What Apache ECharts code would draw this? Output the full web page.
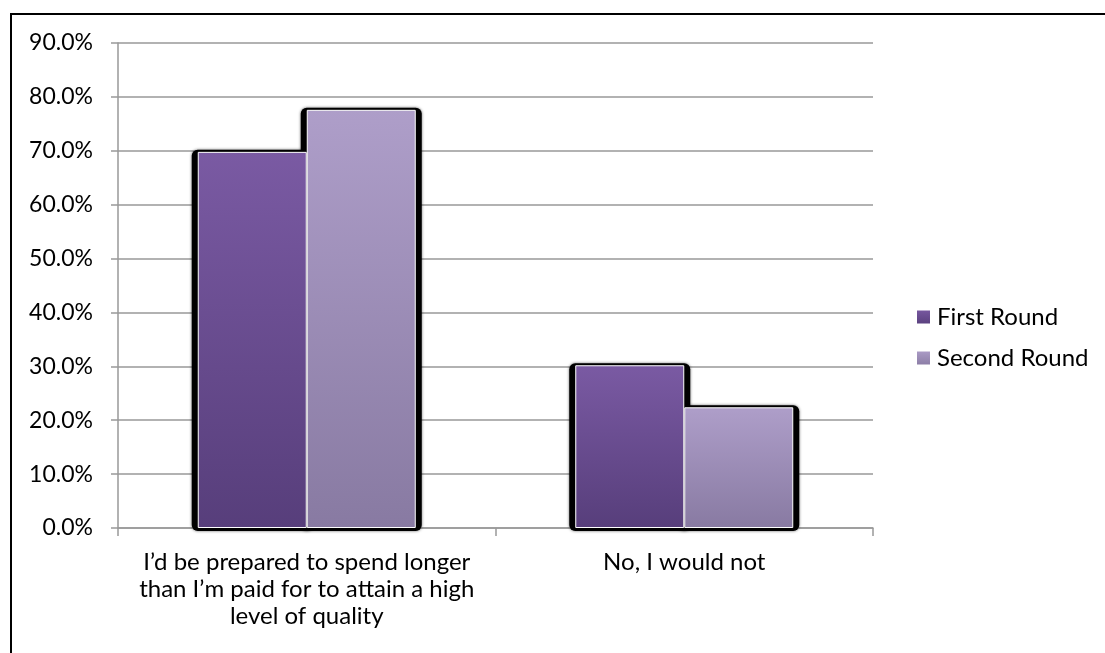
<!DOCTYPE html>
<html>
<head>
<meta charset="utf-8">
<script src="https://cdn.jsdelivr.net/npm/echarts@6/dist/echarts.min.js"></script>
<style>
html,body{margin:0;padding:0;background:#fff;}
#chart{width:1105px;height:653px;}
</style>
</head>
<body>
<div id="chart"></div>
<script>
const categories = [
  "I\u2019d be prepared to spend longer\nthan I\u2019m paid for to attain a high\nlevel of quality",
  "No, I would not"
];
const seriesNames = ["First Round", "Second Round"];
const firstRound = [69.8, 30.2];
const secondRound = [77.6, 22.4];
const yTicks = { min: 0, max: 90, interval: 10 };

const FONT = "Lato";
const BAR_W = 109;
const chart = echarts.init(document.getElementById('chart'), null, { renderer: 'canvas' });

function grad(top, bottom) {
  return new echarts.graphic.LinearGradient(0, 0, 0, 1, [
    { offset: 0, color: top },
    { offset: 1, color: bottom }
  ]);
}

const barStyle = (top, bottom) => ({
  color: grad(top, bottom),
  borderColor: '#ffffff',
  borderWidth: 1
});

const shadowData = categories.map((c, i) => [i, firstRound[i], secondRound[i]]);

function renderShadow(params, api) {
  const idx = api.value(0);
  const base = api.coord([idx, 0]);
  const p1 = api.coord([idx, api.value(1)]);
  const p2 = api.coord([idx, api.value(2)]);
  const cx = base[0];
  const ex = 6, et = 2, eb = 3;
  const mk = (x0, x1, yTop) => ({
    type: 'rect',
    shape: { x: x0 - ex, y: yTop - et, width: (x1 - x0) + 2 * ex, height: base[1] - yTop + et + eb, r: 6 },
    style: { fill: '#000', shadowColor: 'rgba(0,0,0,0.6)', shadowBlur: 3 }
  });
  return {
    type: 'group',
    children: [mk(cx - BAR_W, cx, p1[1]), mk(cx, cx + BAR_W, p2[1])]
  };
}

chart.setOption({
  animation: false,
  backgroundColor: '#ffffff',
  graphic: [{
    type: 'rect',
    shape: { x: 11, y: 14, width: 1120, height: 700 },
    style: { fill: 'none', stroke: '#000', lineWidth: 2 },
    silent: true,
    z: -10
  }],
  grid: { left: 118, right: 232, top: 43, bottom: 125, containLabel: false },
  legend: {
    orient: 'vertical',
    left: 910,
    top: 300,
    itemWidth: 15,
    itemHeight: 15,
    itemGap: 17,
    icon: 'rect',
    textStyle: { fontFamily: FONT, fontSize: 24, color: '#000', padding: [0, 0, 0, 1] },
    data: seriesNames
  },
  xAxis: {
    type: 'category',
    data: categories,
    axisLine: { show: true, lineStyle: { color: '#999', width: 1.5 } },
    axisTick: { show: true, length: 8, alignWithLabel: false, interval: 0, lineStyle: { color: '#999', width: 1.5 } },
    axisLabel: { interval: 0, hideOverlap: false, fontFamily: FONT, fontSize: 24, color: '#000', margin: 21, lineHeight: 27, align: 'center' }
  },
  yAxis: {
    type: 'value',
    min: yTicks.min,
    max: yTicks.max,
    interval: yTicks.interval,
    axisLine: { show: true, lineStyle: { color: '#999', width: 1.5 } },
    axisTick: { show: true, length: 7, inside: false, lineStyle: { color: '#999', width: 1.5 } },
    splitLine: { show: true, lineStyle: { color: '#999', width: 1.5 } },
    axisLabel: { fontFamily: FONT, fontSize: 23, color: '#000', margin: 25, formatter: v => v.toFixed(1) + '%' }
  },
  series: [
    {
      type: 'custom',
      name: 'shadow',
      renderItem: renderShadow,
      data: shadowData,
      encode: { x: 0, y: [1, 2] },
      z: 1,
      silent: true
    },
    {
      name: seriesNames[0],
      type: 'bar',
      data: firstRound,
      barWidth: BAR_W,
      barGap: '0%',
      z: 3,
      itemStyle: barStyle('#7a5aa3', '#573e7b')
    },
    {
      name: seriesNames[1],
      type: 'bar',
      data: secondRound,
      barWidth: BAR_W,
      barGap: '0%',
      z: 3,
      itemStyle: barStyle('#ae9ec9', '#887aa2')
    }
  ]
});
</script>
</body>
</html>
